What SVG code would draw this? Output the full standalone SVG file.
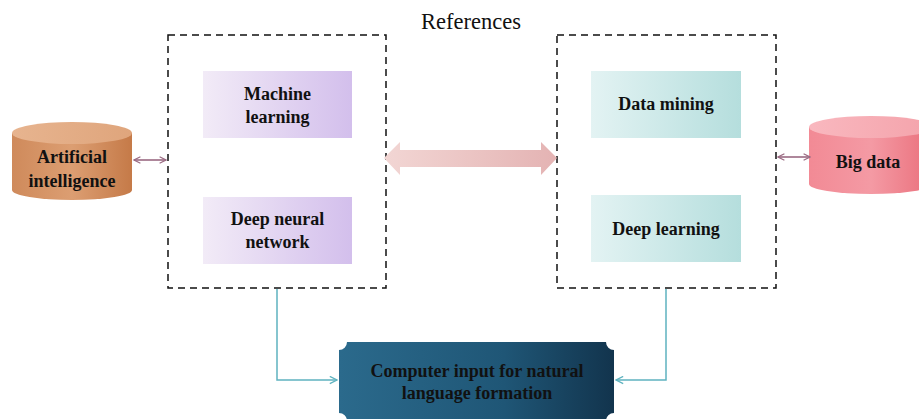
<svg xmlns="http://www.w3.org/2000/svg" width="919" height="419" viewBox="0 0 919 419">
<defs>
<linearGradient id="gPurple" x1="0" y1="0" x2="1" y2="0"><stop offset="0" stop-color="#f2ebf7"/><stop offset="1" stop-color="#d3bfec"/></linearGradient>
<linearGradient id="gTeal" x1="0" y1="0" x2="1" y2="0"><stop offset="0" stop-color="#e3f3f3"/><stop offset="1" stop-color="#b5dedd"/></linearGradient>
<linearGradient id="gOrange" x1="0" y1="0" x2="1" y2="0"><stop offset="0" stop-color="#cf8a5b"/><stop offset="0.5" stop-color="#dc9e72"/><stop offset="1" stop-color="#c57a48"/></linearGradient>
<linearGradient id="gOrangeTop" x1="0" y1="0" x2="1" y2="0"><stop offset="0" stop-color="#e7b48f"/><stop offset="1" stop-color="#dfa57c"/></linearGradient>
<linearGradient id="gPink" x1="0" y1="0" x2="1" y2="0"><stop offset="0" stop-color="#f28a95"/><stop offset="0.5" stop-color="#f49aa4"/><stop offset="1" stop-color="#ea6f7b"/></linearGradient>
<linearGradient id="gPinkTop" x1="0" y1="0" x2="1" y2="0"><stop offset="0" stop-color="#f9b8bf"/><stop offset="1" stop-color="#f4a3ab"/></linearGradient>
<linearGradient id="gBlue" x1="0" y1="0" x2="1" y2="0"><stop offset="0" stop-color="#2b6a8c"/><stop offset="0.6" stop-color="#1f5676"/><stop offset="1" stop-color="#12344d"/></linearGradient>
<linearGradient id="gFat" x1="0" y1="0" x2="1" y2="0"><stop offset="0" stop-color="#f2d6d4"/><stop offset="1" stop-color="#e4b3b3"/></linearGradient>
<marker id="mMauve" viewBox="0 0 10 10" refX="9" refY="5" markerWidth="8" markerHeight="8" orient="auto-start-reverse" markerUnits="userSpaceOnUse"><path d="M1 1 L9 5 L1 9" fill="none" stroke="#9a6a82" stroke-width="1.6"/></marker>
<marker id="mTeal" viewBox="0 0 10 10" refX="9" refY="5" markerWidth="9" markerHeight="9" orient="auto" markerUnits="userSpaceOnUse"><path d="M1 1 L9 5 L1 9" fill="none" stroke="#5fb3c0" stroke-width="1.5"/></marker>
<style>
.lbl{font-family:"Liberation Serif","Times New Roman",serif;font-weight:bold;font-size:18px;fill:#111;text-anchor:middle}
.dash{fill:none;stroke:#111;stroke-width:1.5;stroke-dasharray:7 5}
.teal{fill:none;stroke:#5fb3c0;stroke-width:1.5}
.mauve{fill:none;stroke:#9a6a82;stroke-width:1.6}
</style>
</defs>
<rect width="919" height="419" fill="#fff"/>
<text x="471" y="29" font-family="'Liberation Serif','Times New Roman',serif" font-size="22.5" fill="#111" text-anchor="middle">References</text>

<g id="group-left"><rect class="dash" x="168" y="35" width="218" height="253"/></g>
<g id="group-right"><rect class="dash" x="557" y="35" width="219" height="253"/></g>

<g id="machine-learning"><rect x="203" y="71" width="149" height="67" fill="url(#gPurple)"/><text class="lbl" x="277.5" y="100">Machine</text><text class="lbl" x="277.5" y="123">learning</text></g>
<g id="deep-neural-network"><rect x="203" y="197" width="149" height="67" fill="url(#gPurple)"/><text class="lbl" x="277.5" y="225">Deep neural</text><text class="lbl" x="277.5" y="248">network</text></g>
<g id="data-mining"><rect x="591" y="71" width="150" height="67" fill="url(#gTeal)"/><text class="lbl" x="666" y="110">Data mining</text></g>
<g id="deep-learning"><rect x="591" y="195" width="150" height="67" fill="url(#gTeal)"/><text class="lbl" x="666" y="235">Deep learning</text></g>

<g id="artificial-intelligence">
<path d="M12 133 V190 A60 10 0 0 0 132 190 V133 Z" fill="url(#gOrange)"/>
<ellipse cx="72" cy="133" rx="60" ry="11" fill="url(#gOrangeTop)"/>
<text class="lbl" x="72" y="163">Artificial</text><text class="lbl" x="72" y="187">intelligence</text>
</g>
<g id="big-data">
<path d="M809 127 V184 A62 10 0 0 0 933 184 V127 Z" fill="url(#gPink)"/>
<ellipse cx="871" cy="127" rx="62" ry="11" fill="url(#gPinkTop)"/>
<text class="lbl" x="868" y="168">Big data</text>
</g>
<g id="computer-input">
<path d="M347 342 H606 A8 8 0 0 0 614 350 V413 A8 8 0 0 0 606 421 H347 A8 8 0 0 0 339 413 V350 A8 8 0 0 0 347 342 Z" fill="url(#gBlue)"/>
<text class="lbl" x="477" y="377">Computer input for natural</text><text class="lbl" x="477" y="399">language formation</text>
</g>

<g id="connectors">
<line class="mauve" x1="134" y1="160" x2="166" y2="160" marker-start="url(#mMauve)" marker-end="url(#mMauve)"/>
<line class="mauve" x1="778" y1="157" x2="810" y2="157" marker-start="url(#mMauve)" marker-end="url(#mMauve)"/>
<polygon points="384,158 400,142 400,150 541,150 541,142 557,158 541,175 541,167 400,167 400,175" fill="url(#gFat)"/>
<polyline class="teal" points="277,289 277,380 337,380" marker-end="url(#mTeal)"/>
<polyline class="teal" points="666,289 666,380 616,380" marker-end="url(#mTeal)"/>
</g>
</svg>
